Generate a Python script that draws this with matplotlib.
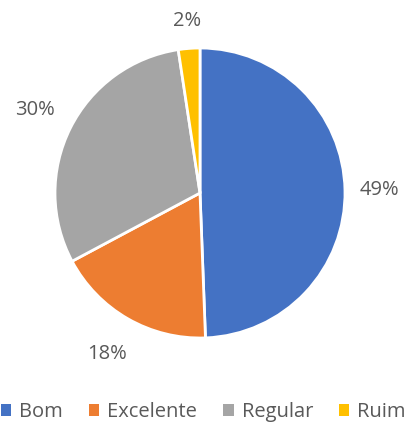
import numpy as np
import matplotlib.pyplot as plt
from matplotlib.patches import Patch

categorias = ['Bom', 'Excelente', 'Regular', 'Ruim']
valores = [49.4, 17.8, 30.4, 2.4]
rotulos = ['49%', '18%', '30%', '2%']
cores = ['#4472C4', '#ED7D31', '#A5A5A5', '#FFC000']

plt.rcParams['font.family'] = ['Open Sans', 'DejaVu Sans']

W, H = 407, 426
fig = plt.figure(figsize=(W / 100, H / 100), dpi=100)

cx, cy, r = 200, 193, 145
ax = fig.add_axes([(cx - 1.32 * r) / W, 1 - (cy + 1.32 * r) / H, 2.64 * r / W, 2.64 * r / H])

wedges, _ = ax.pie(valores, colors=cores, startangle=90, counterclock=False,
                   wedgeprops=dict(edgecolor='white', linewidth=2))

# rotulos fora da pizza, distancia ajustada para cada fatia
dist = [1.24, 1.28, 1.27, 1.19]
for w, txt, d in zip(wedges, rotulos, dist):
    ang = np.deg2rad((w.theta1 + w.theta2) / 2)
    ax.text(d * np.cos(ang), d * np.sin(ang), txt, ha='center', va='center',
            color='#595959', fontsize=14.5)

ax.set_xlim(-1.32, 1.32)
ax.set_ylim(-1.32, 1.32)
ax.set_aspect('equal')

handles = [Patch(facecolor=c, edgecolor='none') for c in cores]
fig.legend(handles, categorias, loc='center', bbox_to_anchor=(0.5, 1 - 412 / H), ncol=4,
           frameon=False, fontsize=14.5, labelcolor='#595959',
           handlelength=0.5, handleheight=0.5, handletextpad=0.4, columnspacing=1.3)

fig.savefig('out.png', dpi=100)
